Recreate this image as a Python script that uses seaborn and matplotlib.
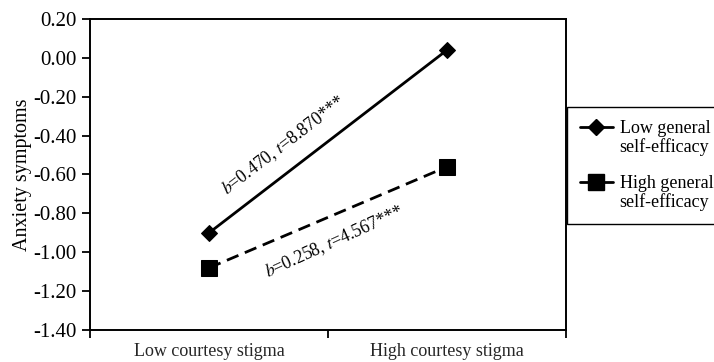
import pandas as pd
import seaborn as sns
import matplotlib.pyplot as plt
from matplotlib.lines import Line2D

# datos
stigma = ["Low courtesy stigma", "High courtesy stigma"]
low_gse = [-0.90, 0.04]
high_gse = [-1.08, -0.56]
y_ticks = [0.20, 0.00, -0.20, -0.40, -0.60, -0.80, -1.00, -1.20, -1.40]
series_names = ["Low general self-efficacy", "High general self-efficacy"]
legend_lines = [["Low general", "self-efficacy"], ["High general", "self-efficacy"]]

df = pd.DataFrame({
    "stigma": stigma * 2,
    "pos": [0, 1, 0, 1],
    "anxiety": low_gse + high_gse,
    "group": [series_names[0]] * 2 + [series_names[1]] * 2,
})

sns.set_style("ticks")
plt.rcParams["font.family"] = ["Liberation Serif", "DejaVu Serif"]
plt.rcParams["mathtext.fontset"] = "stix"
plt.rcParams["text.color"] = "black"

fig = plt.figure(figsize=(7.14, 3.62), dpi=100)
ax = fig.add_axes([0.126, 0.088, 0.667, 0.860])

sns.lineplot(
    data=df, x="pos", y="anxiety", hue="group", style="group",
    palette=["black", "black"], markers=["D", "s"],
    dashes=[(None, None), (4.5, 2.5)], ax=ax, linewidth=2.0,
    markersize=8, markeredgecolor="black", legend=False,
)
# marcador cuadrado más grande
ax.lines[1].set_markersize(11)

ax.set_xlim(-0.5, 1.5)
ax.set_ylim(-1.40, 0.20)
ax.set_yticks(y_ticks)
ax.set_yticklabels([f"{v:.2f}".replace("\u2212", "-") for v in y_ticks], fontsize=15)
ax.set_xticks([-0.5, 0.5, 1.5])
ax.set_xticklabels([])
ax.set_xticks([0, 1], minor=True)
ax.set_xticklabels(stigma, minor=True, fontsize=13)
ax.tick_params(axis="x", which="minor", length=0, pad=9)
ax.tick_params(axis="both", which="major", length=6, width=1.3, color="black", labelcolor="black")
ax.set_xlabel("")
ax.set_ylabel("Anxiety symptoms", fontsize=14.5, labelpad=1, color="black")
for s in ax.spines.values():
    s.set_color("black")
    s.set_linewidth(1.4)

ax.text(0.315, -0.448, r"$b$=0.470, $t$=8.870***", rotation=37.5,
        ha="center", va="center", fontsize=12.8, rotation_mode="anchor", color="black")
ax.text(0.525, -0.947, r"$b$=0.258, $t$=4.567***", rotation=24.5,
        ha="center", va="center", fontsize=12.8, rotation_mode="anchor", color="black")

# leyenda: marcador alineado con la primera línea del texto
blank = Line2D([], [], linestyle="none")
h_low = Line2D([], [], color="black", marker="D", markersize=8, linewidth=2.0)
h_high = Line2D([], [], color="black", marker="s", markersize=11, linewidth=2.0)
handles = [h_low, blank, blank, h_high, blank]
labels = [legend_lines[0][0], legend_lines[0][1], " ", legend_lines[1][0], legend_lines[1][1]]
leg = ax.legend(handles, labels, loc="center left",
                bbox_to_anchor=(1.002, 0.529), borderaxespad=0, frameon=True,
                fancybox=False, edgecolor="black", fontsize=13, handlelength=1.85,
                handleheight=0.6, handletextpad=0.35, labelspacing=0.07,
                borderpad=0.7, framealpha=1)
leg.get_frame().set_linewidth(1.0)

fig.savefig("out.png", dpi=100)
